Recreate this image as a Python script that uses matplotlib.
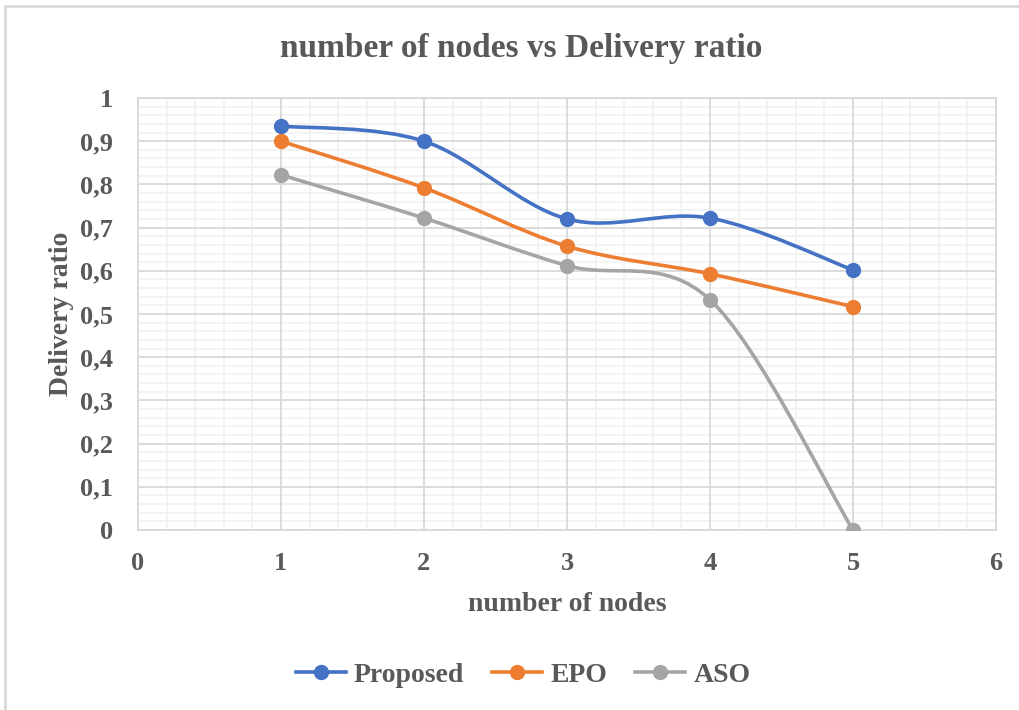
import matplotlib
matplotlib.use("Agg")

import matplotlib.pyplot as plt
import numpy as np
from matplotlib.patches import PathPatch, Rectangle
from matplotlib.path import Path
from matplotlib.ticker import FuncFormatter, MultipleLocator

plt.rcParams["font.family"] = ["Liberation Serif", "DejaVu Serif"]
plt.rcParams["font.weight"] = "bold"

nodes = [1, 2, 3, 4, 5]
proposed = [0.935, 0.90, 0.72, 0.722, 0.602]
epo = [0.90, 0.792, 0.657, 0.593, 0.517]
aso = [0.822, 0.722, 0.612, 0.533, 0.0]

series = [
    ("Proposed", proposed, "#4472c4"),
    ("EPO", epo, "#ed7d31"),
    ("ASO", aso, "#a5a5a5"),
]

TEXT = "#595959"
MAJOR = "#d9d9d9"
MINOR = "#f2f2f2"


def smooth_path(xs, ys):
    """Excel-style smoothed line: cubic Bezier segments (Catmull-Rom tangents)."""
    pts = np.column_stack([xs, ys]).astype(float)
    n = len(pts)
    verts = [pts[0]]
    codes = [Path.MOVETO]
    for i in range(n - 1):
        p0 = pts[i - 1] if i > 0 else pts[i]
        p1, p2 = pts[i], pts[i + 1]
        p3 = pts[i + 2] if i + 2 < n else pts[i + 1]
        verts += [p1 + (p2 - p0) / 6, p2 - (p3 - p1) / 6, p2]
        codes += [Path.CURVE4] * 3
    return Path(verts, codes)


def fmt(v, _):
    if abs(v) < 1e-9:
        return "0"
    if abs(v - 1) < 1e-9:
        return "1"
    return f"{v:.1f}".replace(".", ",")


fig = plt.figure(figsize=(10.2, 7.1), dpi=100)
W, H = 1020, 710
ax = fig.add_axes([138 / W, 1 - 530 / H, (996 - 138) / W, (530 - 98) / H])

# chart border (only top/left visible in the crop)
fig.patches.append(Rectangle((5 / W, -0.1), 1.2, 1 - 6 / H + 0.1,
                             transform=fig.transFigure, fill=False,
                             edgecolor=MAJOR, lw=2))

for name, vals, color in series:
    ax.add_patch(PathPatch(smooth_path(nodes, vals), fill=False,
                           edgecolor=color, lw=2.6, zorder=3,
                           capstyle="round"))
    ax.plot(nodes, vals, marker="o", color=color, ms=10, linestyle="none",
            zorder=4)

ax.set_xlim(0, 6)
ax.set_ylim(0, 1)
ax.xaxis.set_major_locator(MultipleLocator(1))
ax.xaxis.set_minor_locator(MultipleLocator(0.2))
ax.yaxis.set_major_locator(MultipleLocator(0.1))
ax.yaxis.set_minor_locator(MultipleLocator(0.02))
ax.yaxis.set_major_formatter(FuncFormatter(fmt))

# minor grid first, major lines on top of it
ax.grid(which="minor", color=MINOR, lw=1.3)
for v in ax.get_xticks():
    ax.axvline(v, color=MAJOR, lw=1.3, zorder=0.9)
for v in ax.get_yticks():
    ax.axhline(v, color=MAJOR, lw=1.3, zorder=0.9)
ax.set_axisbelow(True)
for s in ax.spines.values():
    s.set_color(MAJOR)
    s.set_linewidth(1.3)
ax.tick_params(which="both", length=0, labelsize=19, colors=TEXT)
ax.tick_params(axis="y", pad=18)
ax.tick_params(axis="x", pad=16)
for lab in ax.get_xticklabels() + ax.get_yticklabels():
    lab.set_fontweight("bold")

ax.set_xlabel("number of nodes", fontsize=20, color=TEXT, fontweight="bold")
ax.set_ylabel("Delivery ratio", fontsize=20, color=TEXT, fontweight="bold")
ax.xaxis.set_label_coords(0.5, (530 - 592) / 432)
ax.yaxis.set_label_coords((74 - 138) / 858, 0.5)
fig.text(521 / W, 1 - 48 / H, "number of nodes vs Delivery ratio",
         ha="center", va="center", fontsize=24, color=TEXT,
         fontweight="bold")

handles = [plt.Line2D([], [], color=c, lw=2.6, marker="o", ms=10)
           for _, _, c in series]
fig.legend(handles, [n for n, _, _ in series], loc="center",
           bbox_to_anchor=(523 / W, 1 - 675 / H), ncol=3, frameon=False,
           labelcolor=TEXT, handlelength=1.8, columnspacing=1.0,
           handletextpad=0.3, prop={"weight": "bold", "size": 20})

fig.savefig("out.png", dpi=100)
